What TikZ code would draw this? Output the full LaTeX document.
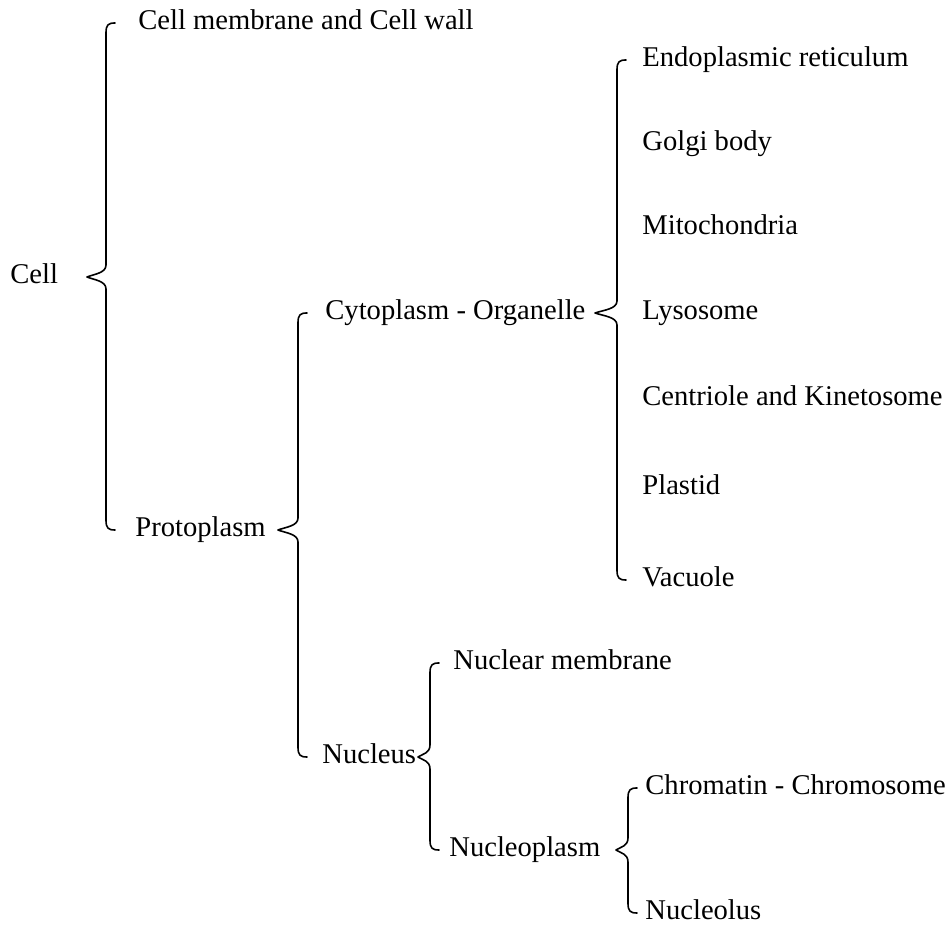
\documentclass[tikz,border=0pt]{standalone}
\usepackage{fontspec}
\setmainfont{Liberation Serif}
\usetikzlibrary{calc}

\begin{document}
\begin{tikzpicture}[
  x=0.5pt, y=-0.5pt,
  every node/.style={font=\fontsize{14.3}{16}\selectfont},
  item/.style={anchor=west, inner sep=0pt, text height=0.68em, text depth=0pt},
  brace line/.style={line width=0.8pt, line join=round, line cap=round}
]
\useasboundingbox (0,0) rectangle (950,930);

% #1 parent, #2 first child, #3 last child, #4 stem x, #5 cusp depth
\def\splitbrace#1#2#3#4#5{%
  \draw[brace line] let \p1=(#1.east), \p2=(#2.west), \p3=(#3.west), \p4=(#4,0) in
    (\x4+4.5pt,\y2) .. controls (\x4+1pt,\y2) and (\x4,\y2-1pt) .. (\x4,\y2-5pt)
    -- (\x4,\y1+6pt)
    .. controls (\x4,\y1+2pt) and (\x4-#5*0.3pt,\y1+1.5pt) .. (\x4-#5*0.5pt,\y1)
    .. controls (\x4-#5*0.3pt,\y1-1.5pt) and (\x4,\y1-2pt) .. (\x4,\y1-6pt)
    -- (\x4,\y3+5pt)
    .. controls (\x4,\y3+1pt) and (\x4+1pt,\y3) .. (\x4+4.5pt,\y3);
}

% cell
\node[item] (cell) at (10,277) {Cell};
\node[item] (wall) at (138,23) {Cell membrane and Cell wall};
\node[item] (proto) at (135,530) {Protoplasm};

% cytoplasm
\node[item] (cyto) at (325,313) {Cytoplasm - Organelle};
\foreach \t/\y [count=\i] in {Endoplasmic reticulum/60, Golgi body/144,
    Mitochondria/228, Lysosome/313, Centriole and Kinetosome/399,
    Plastid/488, Vacuole/580}
  \node[item] (org\i) at (642,\y) {\t};

% nucleus
\node[item] (nucleus) at (322,757) {Nucleus};
\node[item] (nucmem) at (453,663) {Nuclear membrane};
\node[item] (nucplasm) at (449,850) {Nucleoplasm};
\node[item] (chrom) at (645,788) {Chromatin - Chromosome};
\node[item] (nucleolus) at (645,913) {Nucleolus};

% braces
\splitbrace{cell}{wall}{proto}{106}{19}
\splitbrace{proto}{cyto}{nucleus}{298}{20}
\splitbrace{cyto}{org1}{org7}{617}{22}
\splitbrace{nucleus}{nucmem}{nucplasm}{430}{12}
\splitbrace{nucplasm}{chrom}{nucleolus}{628}{12}
\end{tikzpicture}
\end{document}
